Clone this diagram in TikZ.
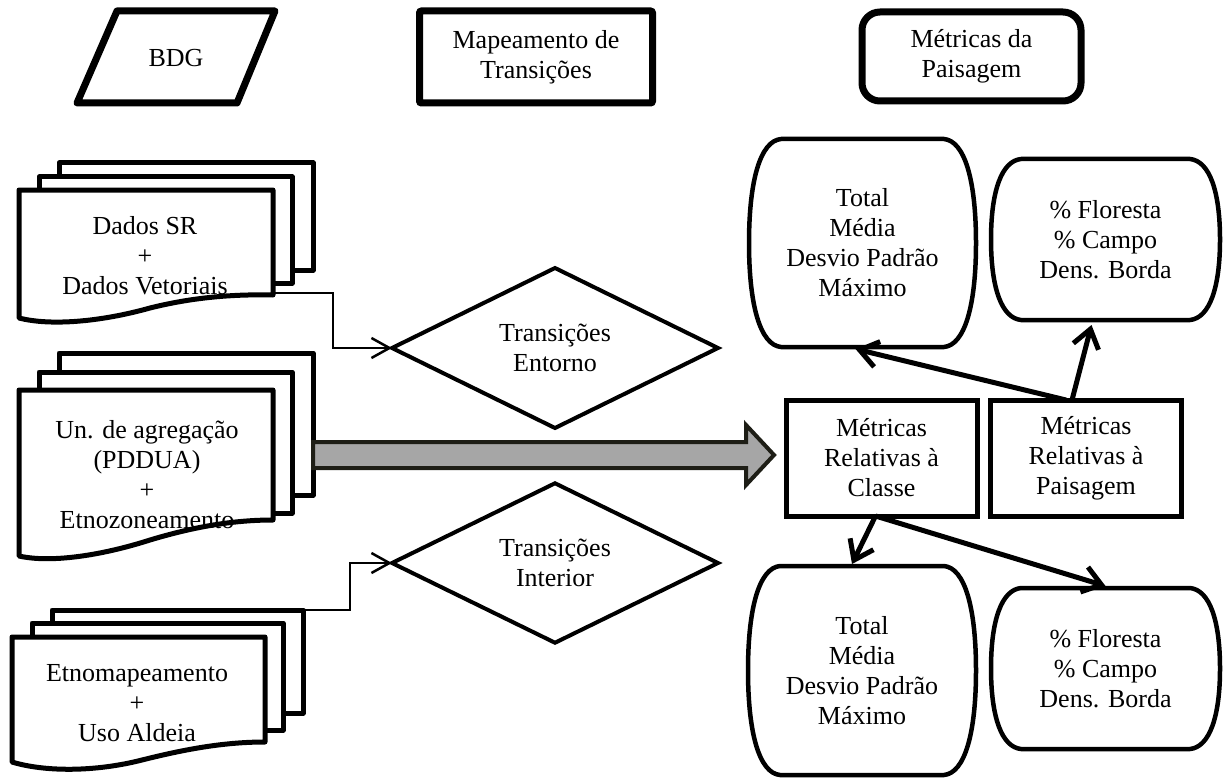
\documentclass[tikz,border=0pt]{standalone}
\usepackage{fontspec}
\setmainfont{Liberation Serif}
\usetikzlibrary{shapes.geometric,arrows.meta,calc}

\definecolor{arrowedge}{HTML}{1E1E16}
\definecolor{arrowfill}{HTML}{A6A6A6}

% outline of the rounded "barrel" boxes around a named text node
\newcommand\blobshape[2]{%
  \draw[blobline]
    ($(#1.north west)+(#2,0)$) -- ($(#1.north east)+(-#2,0)$)
    .. controls ($(#1.north east)+(-0.35*#2,2)$) and ($(#1.north east)!0.4!(#1.east)$) .. (#1.east)
    .. controls ($(#1.south east)!0.4!(#1.east)$) and ($(#1.south east)+(-0.35*#2,-2)$) .. ($(#1.south east)+(-#2,0)$)
    -- ($(#1.south west)+(#2,0)$)
    .. controls ($(#1.south west)+(0.35*#2,-2)$) and ($(#1.south west)!0.4!(#1.west)$) .. (#1.west)
    .. controls ($(#1.north west)!0.4!(#1.west)$) and ($(#1.north west)+(0.35*#2,2)$) .. cycle;}

\begin{document}
\begin{tikzpicture}[x=1pt,y=-1pt,
  txt/.style={font=\fontsize{26}{30}\selectfont, align=center, inner sep=0pt, outer sep=0pt},
  headline/.style={line width=7pt, line join=round},
  headbox/.style={txt, draw, line width=7pt, rounded corners=2pt},
  docline/.style={line width=5pt, line join=round, fill=white},
  decision/.style={txt, draw, diamond, line width=4pt, line join=miter},
  metricbox/.style={txt, draw, line width=5pt, minimum width=191pt, minimum height=116pt},
  blobtext/.style={txt, rectangle},
  blobline/.style={line width=4.5pt, line join=round},
  thinconn/.style={line width=2.5pt, -{Straight Barb[length=18pt,width=20pt]}},
  thickconn/.style={line width=5pt, -{Straight Barb[length=18pt,width=26pt]}},
  bigarrow/.style={line width=4pt, draw=arrowedge, fill=arrowfill, line join=miter}
]
\useasboundingbox (0,0) rectangle (1230,778);

% ---- header row ----
\draw[headline] (117,11) -- (275,11) -- (237,103) -- (77,103) -- cycle;
\node[txt] (bdg) at (176,58) {BDG};
\node[headbox, minimum width=233pt, minimum height=92pt] (map) at (536,57) {Mapeamento de\\Transições};
\node[headbox, rounded corners=18pt, minimum width=219pt, minimum height=89pt] (mpai) at (971.5,56.5) {Métricas da\\Paisagem};

% ---- first document stack ----
\draw[docline] (59,163) rectangle (313,270);
\draw[docline] (39,177) rectangle (292,283);
\draw[docline] (19,190) -- (273,190) -- (273,295)
  .. controls (230,294) and (190,298) .. (150,308)
  .. controls (100,322) and (50,326) .. (19,318) -- cycle;
\node[txt] (doc1) at (145,256) {Dados SR\\+\\Dados Vetoriais};
\coordinate (f1e) at (273,293);

% ---- second document stack ----
\draw[docline] (59,353) rectangle (313,495);
\draw[docline] (39,372) rectangle (292,513);
\draw[docline] (19,390) -- (273,390) -- (273,520)
  .. controls (230,520) and (190,528) .. (150,540)
  .. controls (100,556) and (50,563) .. (19,556) -- cycle;
\node[txt] (doc2) at (147,475) {Un. de agregação\\(PDDUA)\\+\\Etnozoneamento};
\coordinate (bigs) at (313,455);

% ---- third document stack ----
\draw[docline] (52,610) rectangle (303,713);
\draw[docline] (32,623) rectangle (283,730);
\draw[docline] (12,637) -- (265,637) -- (265,742)
  .. controls (222,742) and (182,750) .. (142,760)
  .. controls (95,772) and (45,772) .. (12,762) -- cycle;
\node[txt] (doc3) at (137,703) {Etnomapeamento\\+\\Uso Aldeia};
\coordinate (b3ne) at (303,610);

% ---- transition diamonds ----
\node[decision, minimum width=326pt, minimum height=160pt] (d1) at (555,348) {Transições\\Entorno};
\node[decision, minimum width=326pt, minimum height=152pt] (d2) at (555,563) {Transições\\Interior};

\draw[thinconn] (f1e) -- ++(60,0) |- (d1.west);
\draw[thinconn] (b3ne) -- ++(47,0) |- (d2.west);

% ---- metric boxes ----
\node[metricbox] (classe) at (881.5,458) {Métricas\\Relativas à\\Classe};
\node[metricbox] (pais) at (1086,458) {Métricas\\Relativas à\\Paisagem};

% ---- wide arrow into the class metrics ----
\coordinate (bigt) at ($(classe.west)+(-12,-3)$);
\draw[bigarrow] ($(bigs)+(0,-13)$) -- ($(bigt)+(-28,-13)$) -- ($(bigt)+(-28,-30)$)
  -- (bigt) -- ($(bigt)+(-28,30)$) -- ($(bigt)+(-28,13)$) -- ($(bigs)+(0,13)$) -- cycle;

% ---- metric lists ----
\node[blobtext, minimum width=227pt, minimum height=208pt] (ul) at (862.5,243) {Total\\Média\\Desvio Padrão\\Máximo};
\node[blobtext, minimum width=229pt, minimum height=161pt] (ur) at (1105.5,239.5) {\% Floresta\\\% Campo\\Dens. Borda};
\node[blobtext, minimum width=228pt, minimum height=209pt] (ll) at (862,670.5) {Total\\Média\\Desvio Padrão\\Máximo};
\node[blobtext, minimum width=229pt, minimum height=161pt] (lr) at (1105.5,668.5) {\% Floresta\\\% Campo\\Dens. Borda};
\blobshape{ul}{32}
\blobshape{ur}{30}
\blobshape{ll}{32}
\blobshape{lr}{30}

% ---- metric connectors ----
\coordinate (pstart) at ($(pais.north)+(-14,0)$);
\draw[thickconn] (pstart) -- ($(ur.south)+(-14,5)$);
\draw[thickconn] ($(pstart)+(-6,0)$) -- ($(ul.south)+(-7,2)$);
\coordinate (cstart) at ($(classe.south)+(-6,0)$);
\draw[thickconn] (cstart) -- ($(ll.north)+(-10,-2)$);
\draw[thickconn] (cstart) -- ($(lr.north)+(0,-2)$);
\end{tikzpicture}
\end{document}
